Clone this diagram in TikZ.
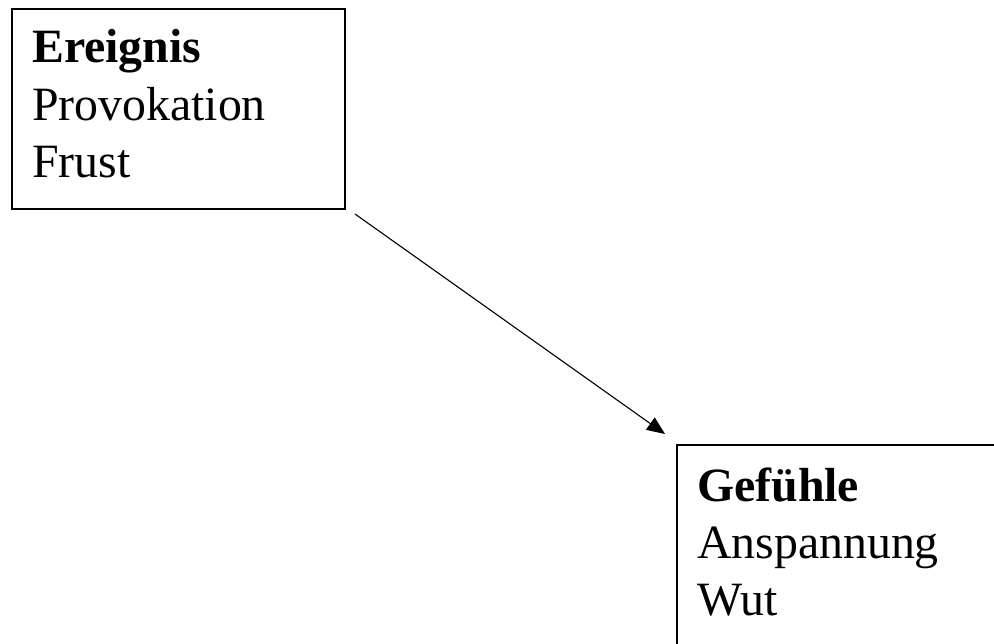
\documentclass[tikz,border=0pt]{standalone}
\usepackage{fontspec}
\setmainfont{Liberation Serif}
\usetikzlibrary{arrows.meta}
\begin{document}
\begin{tikzpicture}[x=1pt,y=-1pt,
  box/.style={draw=black, line width=1.3pt, fill=none},
  txt/.style={anchor=base west, inner sep=0pt, font=\fontsize{47.8}{57}\selectfont},
  conn/.style={line width=1.1pt, -{Triangle[length=18pt,width=15pt]}}]
\useasboundingbox (0,0) rectangle (994,644);
\path[box] (12,9) rectangle (345,209);
\path[box] (677,445) rectangle (1010,660);
\node[txt] (e1) at (32,63) {\textbf{Ereignis}};
\node[txt] (e2) at (32,121) {Provokation};
\node[txt] (e3) at (32,178) {Frust};
\node[txt] (g1) at (697,501) {\textbf{Gefühle}};
\node[txt] (g2) at (697,558) {Anspannung};
\node[txt] (g3) at (697,615) {Wut};
\coordinate (a1) at (355,214);
\coordinate (a2) at (665,434);
\draw[conn] (a1) -- (a2);
\end{tikzpicture}
\end{document}
